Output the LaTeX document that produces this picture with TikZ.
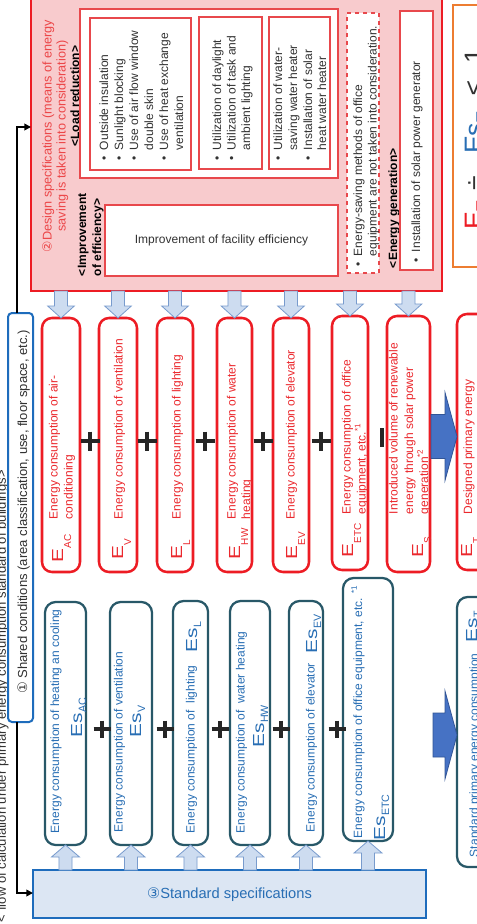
\documentclass[tikz,border=0pt]{standalone}
\usepackage{fontspec}
\setmainfont{Liberation Sans}
\newfontfamily\dvs{DejaVu Sans}
\usepackage{graphicx}
\usetikzlibrary{calc,arrows.meta}

\definecolor{redc}{RGB}{237,28,36}
\definecolor{redtxt}{RGB}{235,40,45}
\definecolor{titlered}{RGB}{236,70,72}
\definecolor{pinkfill}{RGB}{248,203,205}
\definecolor{thinred}{RGB}{232,72,76}
\definecolor{tealb}{RGB}{40,88,104}
\definecolor{bluet}{RGB}{40,110,180}
\definecolor{sharedb}{RGB}{30,108,188}
\definecolor{specfill}{RGB}{220,230,243}
\definecolor{arrfill}{RGB}{205,220,240}
\definecolor{arrdraw}{RGB}{120,155,205}
\definecolor{bigfill}{RGB}{70,114,196}
\definecolor{bigdraw}{RGB}{50,85,150}
\definecolor{orangeb}{RGB}{237,125,49}
\definecolor{grayt}{RGB}{50,50,50}

% bullets and hanging indent for the measure lists
\newcommand\bul{\makebox[7.5pt][l]{•}}
\newcommand\ind{\hspace*{7.5pt}}
% large symbol with lowered subscript
\newcommand\Ebig[1]{\scalebox{1.3}[1]{\fontsize{12}{12}\selectfont E}\raisebox{-6pt}{\fontsize{7.5}{8}\selectfont #1}}
\newcommand\Esbig[1]{\scalebox{1.3}[1]{\fontsize{12}{12}\selectfont Es}\raisebox{-3pt}{\fontsize{8}{8}\selectfont #1}}
% rectangle node from corner (x1,y1) to (x2,y2), in pixel units
\newcommand\boxat[6]{\node[#1, minimum width={(#5-#3)*0.75pt}, minimum height={(#6-#4)*0.75pt}] (#2) at ({(#3+#5)/2},{(#4+#6)/2}) {};}
% block arrows
\newcommand\arrdn[2]{\filldraw[smallarr] let \p1=#1, \p2=#2 in
  (\x2-4.9pt,\y1) -- (\x2-4.9pt,\y2+9pt) -- (\x2-10pt,\y2+9pt) -- (\x2,\y2)
  -- (\x2+10pt,\y2+9pt) -- (\x2+4.9pt,\y2+9pt) -- (\x2+4.9pt,\y1) -- cycle;}
\newcommand\arrup[2]{\filldraw[smallarr] let \p1=#1, \p2=#2 in
  (\x2-4.9pt,\y1) -- (\x2-4.9pt,\y2-9pt) -- (\x2-10.5pt,\y2-9pt) -- (\x2,\y2)
  -- (\x2+10.5pt,\y2-9pt) -- (\x2+4.9pt,\y2-9pt) -- (\x2+4.9pt,\y1) -- cycle;}
\newcommand\arrrt[2]{\filldraw[bigarr] let \p1=#1, \p2=#2 in
  (\x1,\y2+16.5pt) -- (\x2-9pt,\y2+16.5pt) -- (\x2-9pt,\y2+33pt) -- (\x2,\y2)
  -- (\x2-9pt,\y2-33pt) -- (\x2-9pt,\y2-16.5pt) -- (\x1,\y2-16.5pt) -- cycle;}

\tikzset{
  every node/.style={inner sep=0pt, outer sep=0pt},
  box/.style={rectangle, fill=white},
  redbox/.style={box, draw=redc, line width=1.9pt, rounded corners=7.5pt},
  stdbox/.style={box, draw=tealb, line width=1.7pt, rounded corners=8pt},
  thinbox/.style={box, draw=thinred, line width=0.9pt},
  vt/.style={rotate=90, anchor=base west, font=\fontsize{9}{11}\selectfont, text=grayt},
  vtc/.style={vt, anchor=base},
  rtx/.style={vt, text=redtxt},
  btx/.style={vt, text=bluet},
  hd/.style={vt, font=\fontsize{9}{11}\selectfont\bfseries, text=black},
  plusline/.style={line width=2.4pt, draw=black!85},
  conn/.style={draw=black, line width=1.3pt, -{Triangle[length=5pt,width=5pt]}},
  smallarr/.style={fill=arrfill, draw=arrdraw, line width=0.6pt},
  bigarr/.style={fill=bigfill, draw=bigdraw, line width=0.6pt},
}

\begin{document}
\begin{tikzpicture}[x=0.75pt, y=-0.75pt]
\useasboundingbox (0,0) rectangle (477,924);
\clip (0,0) rectangle (477,924);
\fill[white] (0,0) rectangle (477,924);

% heading along the left edge
\node[vt, font=\fontsize{9.8}{12}\selectfont] (flow) at (6,922)
  {< flow of calculation under primary energy consumption standard of buildings>};

% shared conditions
\boxat{box, draw=sharedb, line width=1.5pt, rounded corners=3pt}{shared}{8}{313}{33}{722}
\node[vtc, font=\fontsize{9.8}{12}\selectfont] (sharedt) at (27,512)
  {{\dvs ①} Shared conditions (area classification, use, floor space, etc.)};

% design specifications panel
\boxat{rectangle, fill=pinkfill, draw=redc, line width=2pt}{design}{31}{-20}{442}{291}
\node[vtc, font=\fontsize{9.5}{12}\selectfont, text=titlered] (title1) at (51.5,136)
  {{\dvs ②}Design specifications (means of energy};
\node[vtc, font=\fontsize{9.5}{12}\selectfont, text=titlered] (title2) at (65.5,136)
  {saving is taken into consideration)};

\node[hd, anchor=base] (loadh) at (79,96) {<Load reduction>};
\boxat{thinbox}{loadbox}{80}{9}{338}{178}
\boxat{thinbox}{lr1}{90}{18}{191}{170}
\boxat{thinbox}{lr2}{199}{17}{262}{169}
\boxat{thinbox}{lr3}{269}{17}{330}{169}

\node[vt] (m1) at (108,160) {\bul Outside insulation};
\node[vt] (m2) at (123,160) {\bul Sunlight blocking};
\node[vt] (m3) at (138,160) {\bul Use of air flow window};
\node[vt] (m4) at (153,160) {\ind double skin};
\node[vt] (m5) at (168,160) {\bul Use of heat exchange};
\node[vt] (m6) at (183,160) {\ind ventilation};

\node[vt] (m7) at (221,160) {\bul Utilization of daylight};
\node[vt] (m8) at (235.5,160) {\bul Utilization of task and};
\node[vt] (m9) at (250,160) {\ind ambient lighting};

\node[vt] (m10) at (282,160) {\bul Utilization of water-};
\node[vt] (m11) at (297,160) {\ind saving water heater};
\node[vt] (m12) at (312,160) {\bul Installation of solar};
\node[vt] (m13) at (326,160) {\ind heat water heater};

\node[hd] (effh1) at (86,276) {<Improvement};
\node[hd] (effh2) at (101,276) {of efficiency>};
\boxat{thinbox}{effbox}{105}{205}{338}{276}
\node[font=\fontsize{9}{11}\selectfont, text=grayt] (efft) at (221.5,240.5)
  {Improvement of facility efficiency};

\boxat{thinbox, dashed}{dashbox}{347}{13}{379}{273}
\node[vt] (d1) at (362,266) {\bul Energy-saving methods of office};
\node[vt] (d2) at (376.5,266) {\ind equipment are not taken into consideration.};

\node[hd] (genh) at (397,268) {<Energy generation>};
\boxat{thinbox}{solarbox}{400}{11}{433}{270}
\node[vt] (g1) at (420,262) {\bul Installation of solar power generator};

% designed energy terms
\boxat{redbox}{eAC}{42}{318}{80}{572}
\boxat{redbox}{eV}{99}{318}{137}{572}
\boxat{redbox}{eL}{157}{318}{193}{572}
\boxat{redbox}{eHW}{217}{318}{252}{572}
\boxat{redbox}{eEV}{273}{318}{309}{572}
\boxat{redbox}{eETC}{332}{316}{368}{570}
\boxat{redbox}{eS}{387}{316}{430}{572}
\boxat{redbox}{eT}{457}{314}{530}{570}

\node[rtx] (EAC) at (63,562) {\Ebig{AC}};
\node[rtx] (tAC1) at (57.5,519) {Energy consumption of air-};
\node[rtx] (tAC2) at (72.5,519) {conditioning};
\node[rtx] (EV) at (123,559) {\Ebig{V}};
\node[rtx] (tV) at (122.5,519) {Energy consumption of ventilation};
\node[rtx] (EL) at (182,559) {\Ebig{L}};
\node[rtx] (tL) at (180.5,519) {Energy consumption of lighting};
\node[rtx] (EHW) at (240,559) {\Ebig{HW}};
\node[rtx] (tHW1) at (235.5,519) {Energy consumption of water};
\node[rtx] (tHW2) at (250,519) {heating};
\node[rtx] (EEV) at (297,559) {\Ebig{EV}};
\node[rtx] (tEV) at (294.5,519) {Energy consumption of elevator};
\node[rtx] (EETC) at (353,557) {\Ebig{ETC}};
\node[rtx] (tETC1) at (350.5,514) {Energy consumption of office};
\node[rtx] (tETC2) at (365.5,514) {equipment, etc.\textsuperscript{*1}};
\node[rtx] (ES) at (423,557) {\Ebig{S}};
\node[rtx] (tS1) at (397.5,514) {Introduced volume of renewable};
\node[rtx] (tS2) at (413,514) {energy through solar power};
\node[rtx] (tS3) at (428,514) {generation\textsuperscript{*2}};
\node[rtx] (ET) at (472,557) {\Ebig{T}};
\node[rtx] (tT) at (472,514) {Designed primary energy};

% operators between the designed terms
\foreach \px in {90,147,205,263,321}{
  \draw[plusline] (\px-9.5,441) -- (\px+9.5,441) (\px,431.5) -- (\px,450.5);}
\draw[line width=3.2pt, draw=black!85] (382,428) -- (382,447);

% standard energy terms
\boxat{stdbox}{sAC}{45}{602}{86}{845}
\boxat{stdbox}{sV}{110}{602}{152}{845}
\boxat{stdbox}{sL}{173}{601}{208}{845}
\boxat{stdbox}{sHW}{230}{601}{270}{845}
\boxat{stdbox}{sEV}{289}{601}{323}{845}
\boxat{stdbox}{sETC}{343}{578}{393}{841}
\boxat{stdbox}{sT}{457}{597}{530}{867}

\node[btx] (uAC) at (59,833) {Energy consumption of heating an cooling};
\node[btx] (SAC) at (82,737) {\Esbig{AC}};
\node[btx] (uV) at (122.5,832) {Energy consumption of ventilation};
\node[btx] (SV) at (141,737) {\Esbig{V}};
\node[btx] (uL) at (194.5,833) {Energy consumption of\ \ lighting};
\node[btx] (SL) at (197,652) {\Esbig{L}};
\node[btx] (uHW) at (244.5,833) {Energy consumption of\ \ water heating};
\node[btx] (SHW) at (264,747) {\Esbig{HW}};
\node[btx] (uEV) at (314.5,832) {Energy consumption of elevator};
\node[btx] (SEV) at (317,653) {\Esbig{EV}};
\node[btx] (uETC) at (362,838) {Energy consumption of office equipment, etc. \textsuperscript{*1}};
\node[btx] (SETC) at (385,840) {\Esbig{ETC}};
\node[btx] (uT) at (478,857) {Standard primary energy consumption};
\node[btx] (ST) at (477,642) {\Esbig{T}};

\foreach \px in {102,165,220,281,337}{
  \draw[plusline] (\px-8.5,729) -- (\px+8.5,729) (\px,720.5) -- (\px,737.5);}

% standard specifications
\boxat{rectangle, fill=specfill, draw=sharedb, line width=1.6pt}{stdspec}{33}{870}{426}{918}
\node[font=\fontsize{11}{13}\selectfont, text=bluet] (spect) at (229.5,895)
  {{\dvs ③}Standard specifications};

% ratio
\boxat{box, draw=orangeb, line width=2pt}{ratio}{453}{5}{530}{267}
\node[vtc, font=\fontsize{20}{20}\selectfont, text=redc] (rE) at (483,215)
  {E\raisebox{-4pt}{\fontsize{13}{13}\selectfont T}};
\node[vtc, font=\fontsize{20}{20}\selectfont, text=grayt] (rdiv) at (483,183) {÷};
\node[vtc, font=\fontsize{20}{20}\selectfont, text=bluet] (rEs) at (483,133)
  {Es\raisebox{-4pt}{\fontsize{13}{13}\selectfont T}};
\node[vtc, font=\fontsize{20}{20}\selectfont, text=grayt] (rle) at (483,88) {≤};
\node[vtc, font=\fontsize{20}{20}\selectfont, text=grayt] (rone) at (483,56) {1};

% connectors from shared conditions
\coordinate (lx) at (17,0);
\coordinate (ty) at (0,127);
\coordinate (by) at (0,893);
\draw[conn] (shared.north -| lx) |- (design.west |- ty);
\draw[conn] (shared.south -| lx) |- (stdspec.west |- by);

% block arrows
\foreach \b in {eAC,eV,eL,eHW,eEV,eETC,eS}{\arrdn{(design.south)}{(\b.north)}}
\foreach \b in {sAC,sV,sL,sHW,sEV,sETC}{\arrup{(stdspec.north)}{(\b.south)}}
\coordinate (a1) at (431,436.5);
\coordinate (a2) at (433,735);
\arrrt{(a1)}{(eT.west |- a1)}
\arrrt{(a2)}{(sT.west |- a2)}
\end{tikzpicture}
\end{document}
